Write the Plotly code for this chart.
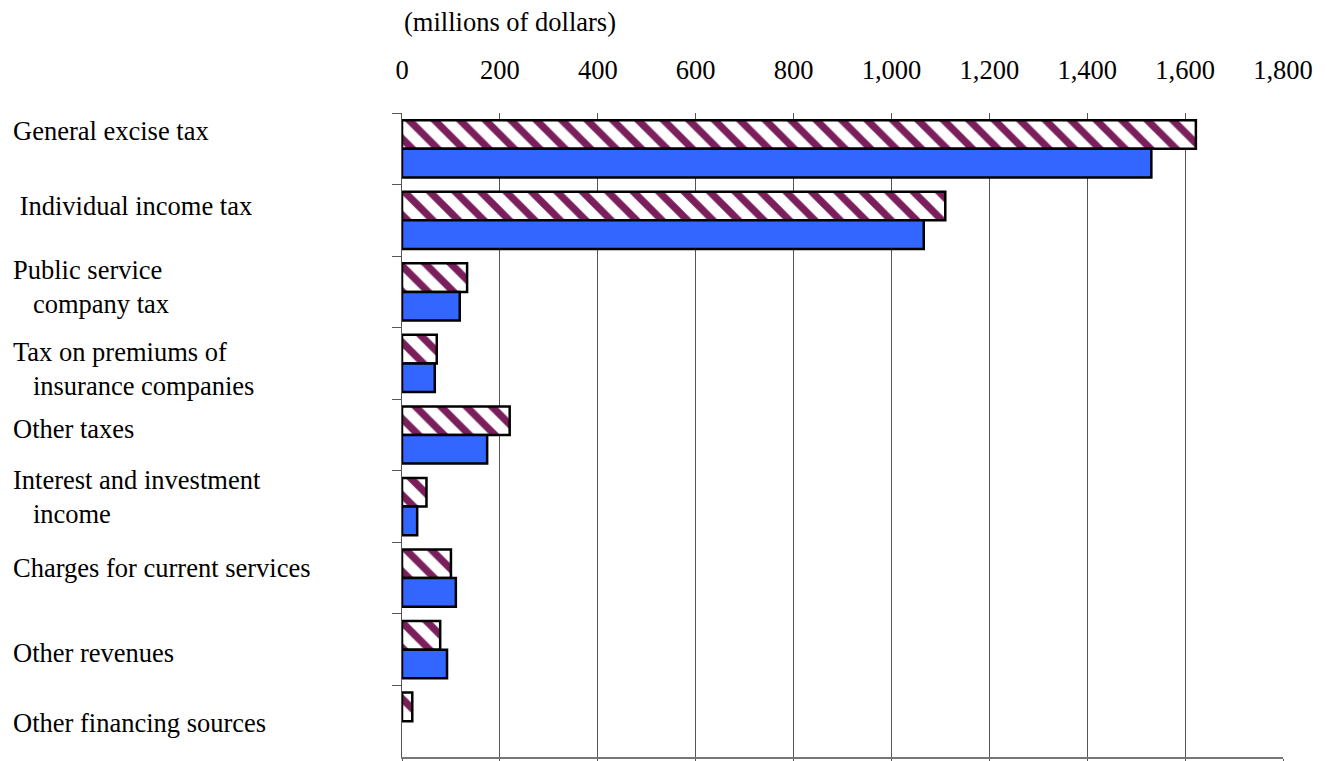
import plotly.graph_objects as go

# Revenue categories, listed top to bottom
categories = [
    "General excise tax",
    "Individual income tax",
    "Public service company tax",
    "Tax on premiums of insurance companies",
    "Other taxes",
    "Interest and investment income",
    "Charges for current services",
    "Other revenues",
    "Other financing sources",
]

# Row labels as drawn beside the bars (wrapped, continuation lines indented)
row_labels = [
    "General excise tax",
    "\u00a0Individual income tax",
    "Public service<br>\u00a0\u00a0\u00a0company tax",
    "Tax on premiums of<br>\u00a0\u00a0\u00a0insurance companies",
    "Other taxes",
    "Interest and investment<br>\u00a0\u00a0\u00a0income",
    "Charges for current services",
    "Other revenues",
    "Other financing sources",
]

# Millions of dollars
hatched_values = [1622, 1110, 133, 71, 220, 50, 100, 78, 21]
solid_values = [1531, 1066, 118, 67, 174, 31, 110, 92, None]

x_ticks = [0, 200, 400, 600, 800, 1000, 1200, 1400, 1600, 1800]

# Vertical nudge (px) of each row label relative to its row centre
label_shift = [18, 14, 5, -6, 6, 10, 10, -3, -2]

FONT = "Liberation Serif"
FS = 26.5

fig = go.Figure()

fig.add_trace(go.Bar(
    y=categories, x=hatched_values, orientation="h", name="hatched",
    marker=dict(
        color="white",
        line=dict(color="black", width=2.5),
        pattern=dict(shape="\\", fgcolor="#7a1f5c", bgcolor="white",
                     fgopacity=1, size=18, solidity=0.4, fillmode="replace"),
    ),
    hoverinfo="skip",
))
fig.add_trace(go.Bar(
    y=categories, x=solid_values, orientation="h", name="solid",
    marker=dict(color="#3366ff", line=dict(color="black", width=2.5)),
    hoverinfo="skip",
))
# Empty trace so the bottom baseline axis is drawn
fig.add_trace(go.Scatter(x=[], y=[], xaxis="x2", yaxis="y",
                         showlegend=False, hoverinfo="skip"))

annotations = []
for cat, text, dy in zip(categories, row_labels, label_shift):
    annotations.append(dict(
        text=text, xref="paper", x=-(402 - 11) / 881, xanchor="left",
        yref="y", y=cat, yanchor="middle", yshift=dy,
        align="left", showarrow=False,
        font=dict(family=FONT, size=FS, color="black"),
    ))
annotations.append(dict(
    text="(millions of dollars)", xref="paper", x=0, xanchor="left",
    yref="paper", y=1, yanchor="middle", yshift=91,
    showarrow=False, font=dict(family=FONT, size=FS, color="black"),
))

fig.update_layout(
    width=1327, height=761,
    margin=dict(l=402, r=44, t=113, b=4, autoexpand=False),
    paper_bgcolor="white", plot_bgcolor="white",
    barmode="group", bargap=0.2, bargroupgap=0,
    showlegend=False,
    font=dict(family=FONT, size=FS, color="black"),
    annotations=annotations,
    xaxis=dict(
        side="top", range=[0, 1800], tickvals=x_ticks, tickformat=",",
        showgrid=True, gridcolor="#555555", gridwidth=1,
        zeroline=False, showline=False, ticks="",
        ticklabelstandoff=28, automargin=False,
        tickfont=dict(family=FONT, size=FS, color="black"),
    ),
    xaxis2=dict(
        overlaying="x", matches="x", side="bottom", anchor="y",
        range=[0, 1800], tickvals=x_ticks, showticklabels=False,
        showgrid=False, zeroline=False, automargin=False,
        showline=True, linecolor="#777777", linewidth=1.5,
        ticks="outside", ticklen=4, tickcolor="#555555",
    ),
    yaxis=dict(
        type="category", autorange="reversed", automargin=False,
        showticklabels=False, showgrid=False, zeroline=False,
        showline=True, linecolor="#555555", linewidth=1,
        ticks="outside", ticklen=9, tickcolor="#555555", tickson="boundaries",
    ),
)

fig.write_html("out.html")
